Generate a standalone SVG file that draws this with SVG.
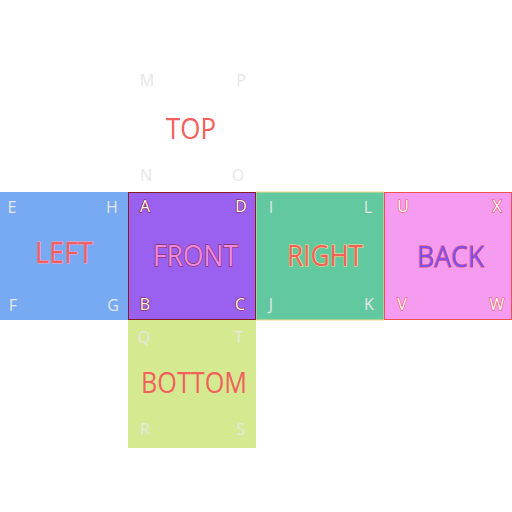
<svg xmlns="http://www.w3.org/2000/svg" width="512" height="512" viewBox="0 0 512 512">
<style>
.lbl{font-family:"Open Sans","Noto Sans",sans-serif;font-size:29px;text-anchor:middle;fill:#f25f5c}
.cr{font-family:"Open Sans","Noto Sans",sans-serif;font-size:16px;text-anchor:middle;fill:#e6e6e6}
.frontc{fill:#ffffff;stroke:#8b1a1a;stroke-width:1.2;paint-order:stroke}
.backc{fill:#ffffff;stroke:#f05050;stroke-width:1.2;paint-order:stroke}
</style>
<rect width="512" height="512" fill="#ffffff"/>
<g id="top">
<text class="lbl" x="191" y="139" textLength="50" lengthAdjust="spacingAndGlyphs">TOP</text>
<text class="cr" x="147" y="86">M</text>
<text class="cr" x="241" y="86">P</text>
<text class="cr" x="146" y="181">N</text>
<text class="cr" x="238" y="181">O</text>
</g>
<g id="left">
<rect x="0" y="192" width="128" height="128" fill="#77aaf2"/>
<text class="lbl" x="64" y="263" textLength="58" lengthAdjust="spacingAndGlyphs" style="stroke:#f8a8d8;stroke-width:0.8;paint-order:stroke">LEFT</text>
<text class="cr" x="12" y="213">E</text>
<text class="cr" x="112" y="213">H</text>
<text class="cr" x="13" y="311">F</text>
<text class="cr" x="113" y="311">G</text>
</g>
<g id="right">
<rect x="256" y="192" width="128" height="128" fill="#62c8a0" stroke="#f0dc90" stroke-width="1"/>
<text class="lbl" x="325" y="266" textLength="76" lengthAdjust="spacingAndGlyphs" style="stroke:#f5e08a;stroke-width:1.2;paint-order:stroke">RIGHT</text>
<text class="cr" x="271" y="213">I</text>
<text class="cr" x="368" y="213">L</text>
<text class="cr" x="271" y="310">J</text>
<text class="cr" x="369" y="310">K</text>
</g>
<g id="back">
<rect x="384.5" y="192.5" width="127" height="127" fill="#f59cf0" stroke="#f05050" stroke-width="1"/>
<text class="lbl" x="450.5" y="267" textLength="67" lengthAdjust="spacingAndGlyphs" style="fill:#8050ee;stroke:#f05050;stroke-width:1;paint-order:stroke">BACK</text>
<text class="cr backc" x="403" y="212">U</text>
<text class="cr backc" x="497" y="212">X</text>
<text class="cr backc" x="402" y="310">V</text>
<text class="cr backc" x="497" y="310">W</text>
</g>
<g id="bottom">
<rect x="128" y="320" width="128" height="128" fill="#d5ea90"/>
<text class="lbl" x="194" y="393" textLength="106" lengthAdjust="spacingAndGlyphs">BOTTOM</text>
<text class="cr" x="144" y="343">Q</text>
<text class="cr" x="239" y="343">T</text>
<text class="cr" x="145" y="435">R</text>
<text class="cr" x="241" y="435">S</text>
</g>
<g id="front">
<rect x="128.5" y="192.5" width="127" height="127" fill="#9a60f0" stroke="#8b1a1a" stroke-width="1"/>
<text class="lbl" x="195.5" y="266" textLength="85" lengthAdjust="spacingAndGlyphs" style="fill:#ea8ae8;stroke:#8b1a1a;stroke-width:1;paint-order:stroke">FRONT</text>
<text class="cr frontc" x="145" y="212">A</text>
<text class="cr frontc" x="241" y="212">D</text>
<text class="cr frontc" x="145" y="310">B</text>
<text class="cr frontc" x="240" y="310">C</text>
</g>
<g id="connectors"></g>
</svg>
